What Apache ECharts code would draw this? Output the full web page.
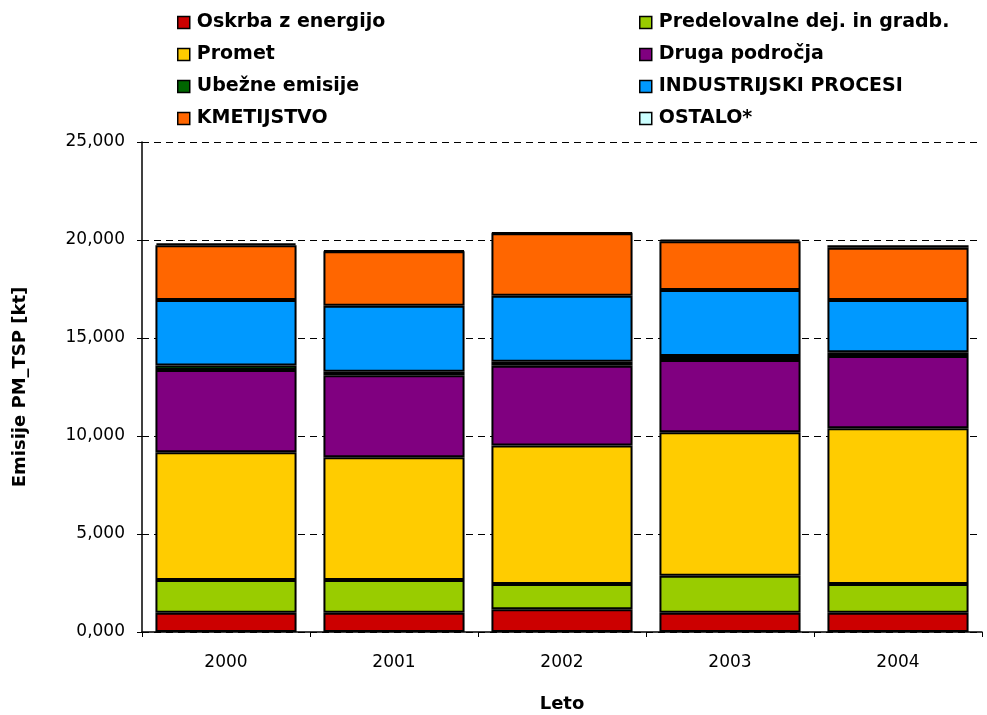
<!DOCTYPE html>
<html><head><meta charset="utf-8">
<script src="https://cdn.jsdelivr.net/npm/echarts@6/dist/echarts.min.js"></script>
<style>html,body{margin:0;padding:0;background:#fff;overflow:hidden}#c{width:987px;height:715px}</style>
</head><body><div id="c"></div>
<script>
const years = ['2000','2001','2002','2003','2004'];
const seriesNames = ['Oskrba z energijo','Predelovalne dej. in gradb.','Promet','Druga področja','Ubežne emisije','INDUSTRIJSKI PROCESI','KMETIJSTVO','OSTALO*'];
const colors = ['#CC0000','#99CC00','#FFCC00','#800080','#006600','#0099FF','#FF6600','#CCFFFF'];
const oskrba = [0.98, 0.98, 1.16, 0.98, 0.98];
const predelovalne = [1.67, 1.67, 1.29, 1.89, 1.47];
const promet = [6.52, 6.26, 7.06, 7.32, 7.94];
const druga = [4.20, 4.19, 4.08, 3.69, 3.69];
const ubezne = [0.23, 0.18, 0.20, 0.20, 0.19];
const industrijski = [3.34, 3.37, 3.37, 3.37, 2.67];
const kmetijstvo = [2.79, 2.77, 3.18, 2.48, 2.67];
const ostalo = [0.10, 0.05, 0.04, 0.10, 0.12];
const seriesData = [oskrba, predelovalne, promet, druga, ubezne, industrijski, kmetijstvo, ostalo];
const yTicks = {min: 0, max: 25, interval: 5};

const FONT = 'DejaVu Sans';
const chart = echarts.init(document.getElementById('c'), null, {renderer: 'canvas'});
const legendCommon = {
  orient: 'vertical', itemWidth: 12, itemHeight: 12, itemGap: 13,
  icon: 'rect',
  itemStyle: {borderColor: '#000', borderWidth: 1.5},
  textStyle: {fontFamily: FONT, fontWeight: 'bold', fontSize: 19, color: '#000', padding: [0,0,0,2]}
};
chart.setOption({
  animation: false,
  textStyle: {fontFamily: FONT},
  legend: [
    Object.assign({}, legendCommon, {left: 172, top: 8, data: [seriesNames[0], seriesNames[2], seriesNames[4], seriesNames[6]]}),
    Object.assign({}, legendCommon, {left: 634, top: 8, data: [seriesNames[1], seriesNames[3], seriesNames[5], seriesNames[7]]})
  ],
  grid: {left: 142, right: 5, top: 142, bottom: 83, containLabel: false, outerBoundsMode: 'none'},
  xAxis: {
    type: 'category', data: years,
    name: 'Leto', nameLocation: 'middle', nameGap: 63,
    nameTextStyle: {fontFamily: FONT, fontWeight: 'bold', fontSize: 18, color: '#000'},
    axisLine: {lineStyle: {color: '#000', width: 1.5}},
    axisTick: {show: true, length: 5, lineStyle: {color: '#000'}},
    axisLabel: {fontFamily: FONT, fontSize: 17, color: '#000', margin: 22}
  },
  yAxis: {
    type: 'value', min: yTicks.min, max: yTicks.max, interval: yTicks.interval,
    name: 'Emisije PM_TSP [kt]', nameLocation: 'middle', nameGap: 113, nameRotate: 90,
    nameTextStyle: {fontFamily: FONT, fontWeight: 'bold', fontSize: 18, color: '#000'},
    axisLine: {show: true, lineStyle: {color: '#000', width: 1.5}},
    axisTick: {show: true, length: 5, lineStyle: {color: '#000'}},
    axisLabel: {fontFamily: FONT, fontSize: 17, color: '#000', margin: 17,
      formatter: v => v.toFixed(3).replace('.', ',')},
    splitLine: {show: true, lineStyle: {color: '#000', type: [7, 5], width: 1}}
  },
  series: seriesNames.map((n, i) => ({
    name: n, type: 'bar', stack: 'total', data: seriesData[i],
    barWidth: '84%',
    itemStyle: {color: colors[i], borderColor: '#000', borderWidth: 2}
  }))
});
</script></body></html>
